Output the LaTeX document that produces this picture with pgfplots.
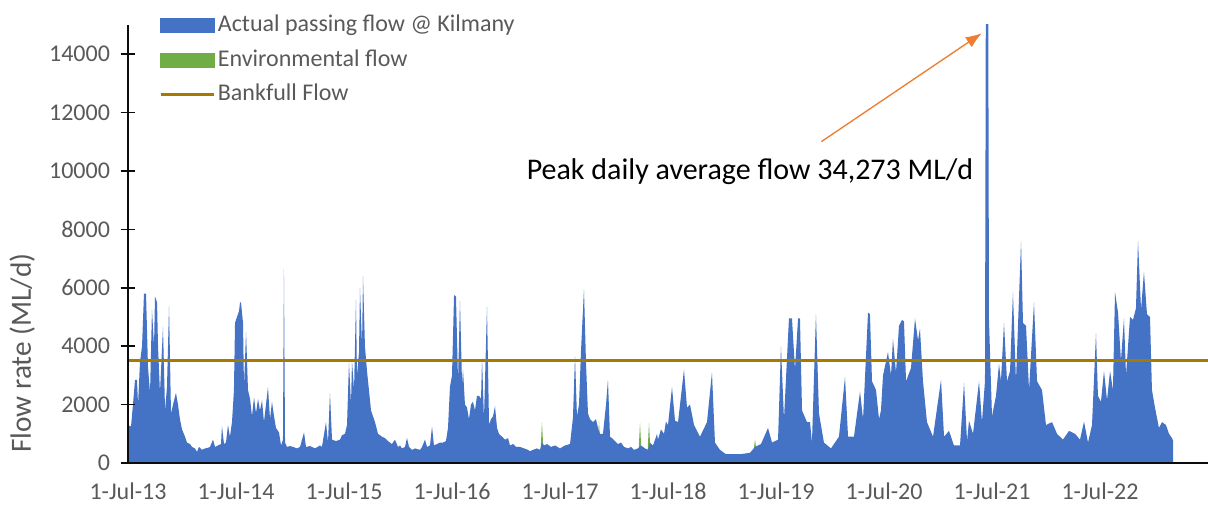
\documentclass[border=0pt]{standalone}
\usepackage{pgfplots}
\pgfplotsset{compat=1.18}
\usepackage{fontspec}
\setmainfont{Carlito}
\usetikzlibrary{arrows.meta}
\definecolor{flowblue}{RGB}{68,114,196}
\definecolor{envgreen}{RGB}{112,173,71}
\definecolor{bankcol}{RGB}{165,122,0}
\definecolor{arrorange}{RGB}{237,125,49}
\definecolor{textgray}{RGB}{89,89,89}
\definecolor{axcol}{RGB}{12,12,12}
\begin{document}
\begin{tikzpicture}
\useasboundingbox (-96pt,-30.75pt) rectangle (810pt,347.25pt);
\begin{axis}[
  at={(0,0)}, anchor=south west,
  scale only axis, width=810pt, height=328.5pt,
  xmin=0, xmax=10, ymin=0, ymax=15000,
  axis x line=bottom, axis y line=left,
  axis line style={-, line width=1.5pt, draw=axcol},
  xtick={0,1,2,3,4,5,6,7,8,9},
  xticklabels={1-Jul-13,1-Jul-14,1-Jul-15,1-Jul-16,1-Jul-17,1-Jul-18,1-Jul-19,1-Jul-20,1-Jul-21,1-Jul-22},
  major x tick style={draw=none},
  xticklabel style={yshift=-6pt},
  ytick={0,2000,4000,6000,8000,10000,12000,14000},
  major y tick style={draw=axcol, line width=1.2pt},
  scaled y ticks=false,
  tick align=center, major tick length=11pt,
  yticklabel style={xshift=-4.5pt},
  tick label style={font=\fontsize{18}{21}\selectfont, text=textgray},
  /pgf/number format/assume math mode=true,
  /pgf/number format/1000 sep={},
  ylabel={Flow rate (ML/d)},
  ylabel style={font=\fontsize{22}{26}\selectfont, text=textgray, at={(axis description cs:-0.098,0.251)}, anchor=center},
  legend style={draw=none, fill=none, at={(rel axis cs:0.0287,1.031)}, anchor=north west,
    font=\fontsize{18}{21}\selectfont, text=textgray, row sep=4.75pt, inner sep=0pt,
    nodes={text height=13pt, text depth=4pt},
    /tikz/every even column/.append style={column sep=2pt}},
  legend cell align=left,
]
\addlegendimage{legend image code/.code={\fill[flowblue] (0pt,-5.25pt) rectangle (40pt,5.25pt);}}
\addlegendentry{Actual passing flow @ Kilmany}
\addlegendimage{legend image code/.code={\fill[envgreen] (0pt,-5.25pt) rectangle (40pt,5.25pt);}}
\addlegendentry{Environmental flow}
\addlegendimage{legend image code/.code={\draw[bankcol, line width=2pt] (0pt,0pt) -- (40pt,0pt);}}
\addlegendentry{Bankfull Flow}

% Environmental flow (visible only where it exceeds the passing flow)
\addplot[fill=envgreen, draw=none, forget plot] table {
0 0
3.815 0
3.833 1400
3.852 0
4.343 0
4.361 1450
4.380 0
4.722 0
4.741 1370
4.759 0
4.806 0
4.824 1370
4.843 0
5.778 0
5.806 800
5.833 0
9.676 0
} \closedcycle;

% Actual passing flow @ Kilmany
\addplot[fill=flowblue, draw=none, forget plot] table {
0.000 1300
0.028 1250
0.046 2000
0.065 2850
0.083 2850
0.093 2000
0.111 3450
0.130 4000
0.148 5800
0.167 5800
0.185 3300
0.204 2400
0.222 5250
0.241 4000
0.250 5700
0.269 5500
0.278 4000
0.296 2400
0.324 4650
0.343 1800
0.361 2600
0.380 5400
0.398 1700
0.417 2000
0.444 2400
0.463 2000
0.481 1500
0.500 1150
0.528 900
0.546 700
0.574 650
0.593 550
0.620 500
0.639 380
0.657 550
0.685 450
0.713 500
0.741 520
0.759 550
0.787 800
0.806 550
0.833 600
0.861 650
0.870 1270
0.889 650
0.907 700
0.926 1300
0.944 900
0.963 1400
0.981 2500
0.991 4800
1.009 5000
1.028 5200
1.037 5500
1.046 5500
1.065 4800
1.074 2600
1.093 4500
1.111 2500
1.130 2200
1.148 1600
1.167 2250
1.185 1700
1.204 2200
1.222 1800
1.241 2150
1.259 1400
1.296 2600
1.315 1500
1.333 2100
1.352 1600
1.370 1200
1.398 1050
1.417 600
1.435 800
1.444 6650
1.454 700
1.472 550
1.500 580
1.528 550
1.565 500
1.593 550
1.630 1050
1.648 550
1.685 580
1.731 500
1.778 600
1.796 550
1.833 1400
1.852 700
1.870 2400
1.889 800
1.926 750
1.963 800
1.981 950
2.009 1000
2.028 1300
2.046 3450
2.065 2000
2.074 3500
2.093 2500
2.111 5600
2.120 3000
2.139 3800
2.148 6000
2.167 4000
2.176 6400
2.194 4000
2.213 3150
2.231 2500
2.250 1800
2.287 1400
2.315 1000
2.352 900
2.380 850
2.407 750
2.444 650
2.472 800
2.500 550
2.519 600
2.537 500
2.565 550
2.583 860
2.602 550
2.630 450
2.657 500
2.704 450
2.722 550
2.750 800
2.769 550
2.796 600
2.815 1250
2.833 600
2.861 650
2.889 700
2.917 700
2.944 750
2.963 1200
2.981 2600
3.000 3000
3.019 5750
3.037 5700
3.056 2800
3.074 5550
3.093 2700
3.102 3200
3.120 2000
3.139 1900
3.157 1500
3.176 2000
3.194 2100
3.213 1800
3.231 2300
3.250 2300
3.269 2200
3.278 3600
3.296 1500
3.324 5350
3.343 1300
3.361 1500
3.380 1600
3.398 1950
3.417 1200
3.435 1000
3.463 900
3.491 800
3.519 850
3.537 600
3.565 650
3.593 550
3.630 550
3.667 500
3.704 450
3.722 400
3.750 450
3.787 500
3.815 450
3.833 700
3.852 600
3.880 650
3.917 550
3.954 600
4.000 500
4.046 600
4.093 650
4.120 1550
4.139 3650
4.157 1600
4.176 2000
4.194 3800
4.222 5950
4.241 3400
4.259 1700
4.278 1500
4.306 1400
4.333 1500
4.352 1200
4.370 1000
4.398 1000
4.426 2000
4.444 2850
4.463 900
4.481 850
4.509 750
4.537 650
4.565 700
4.593 550
4.630 500
4.657 550
4.685 450
4.722 500
4.750 600
4.787 500
4.815 450
4.833 700
4.861 600
4.880 800
4.898 1000
4.907 800
4.935 1150
4.963 1000
4.981 1420
5.000 1300
5.037 2600
5.065 1450
5.093 1400
5.148 3200
5.176 1900
5.204 2000
5.241 1300
5.296 900
5.361 1400
5.407 3100
5.435 700
5.481 450
5.537 300
5.667 300
5.759 350
5.806 550
5.861 650
5.926 1200
5.963 700
6.019 800
6.046 4000
6.074 1500
6.120 4950
6.148 4950
6.176 3200
6.204 4950
6.222 4950
6.241 1800
6.287 1400
6.315 1400
6.333 700
6.370 5100
6.398 1700
6.444 700
6.509 500
6.583 900
6.639 2950
6.667 900
6.722 900
6.778 2450
6.806 1500
6.852 5150
6.870 5100
6.889 2800
6.926 2500
6.954 1500
6.972 1800
6.991 3000
7.037 3800
7.065 3000
7.083 4250
7.111 3100
7.139 4700
7.167 4900
7.185 4850
7.204 2800
7.250 3250
7.287 4950
7.315 4200
7.333 4600
7.361 2800
7.398 1400
7.454 900
7.528 2850
7.556 900
7.602 1100
7.648 600
7.704 600
7.741 2750
7.769 750
7.787 1450
7.824 1000
7.880 2800
7.907 1400
7.935 2800
7.954 34273
7.972 4900
8.000 1600
8.037 2300
8.065 3400
8.083 2800
8.111 4800
8.139 2800
8.167 3150
8.194 5850
8.222 2800
8.269 7600
8.287 4800
8.315 4700
8.343 2500
8.389 5500
8.417 2800
8.463 2500
8.500 1300
8.556 1400
8.602 1000
8.657 800
8.713 1100
8.769 1000
8.815 800
8.852 1420
8.889 700
8.926 1300
8.963 4450
8.981 2300
9.009 2100
9.037 3150
9.065 2150
9.093 3150
9.120 2500
9.139 5850
9.167 5150
9.194 3500
9.222 4950
9.241 3000
9.278 5000
9.306 4900
9.333 5300
9.352 7600
9.380 5250
9.407 6550
9.435 5100
9.463 5000
9.481 2500
9.509 1900
9.546 1200
9.574 1400
9.611 1300
9.639 1000
9.667 850
9.676 770
} \closedcycle;

% Bankfull flow
\addplot[bankcol, line width=2pt, forget plot] coordinates {(0,3500) (10,3500)};

\draw[-{Latex[length=12pt,width=9pt]}, arrorange, line width=1pt] (axis cs:6.42,11005) -- (axis cs:7.905,14717);
\node[font=\fontsize{22.5}{26}\selectfont, text=black] at (axis cs:5.759,9967) {Peak daily average flow 34,273 ML/d};
\end{axis}
% axis lines and y tick marks over the filled areas (axis box: 810pt x 328.5pt at the origin; 2000 ML/d = 43.8pt)
\draw[axcol, line width=1.5pt] (0pt,328.5pt) -- (0pt,0pt) -- (810pt,0pt);
\foreach \k in {0,...,7} {
  \draw[axcol, line width=1.2pt] (-5.5pt,\k*43.8pt) -- (5.5pt,\k*43.8pt);
}
\end{tikzpicture}
\end{document}
